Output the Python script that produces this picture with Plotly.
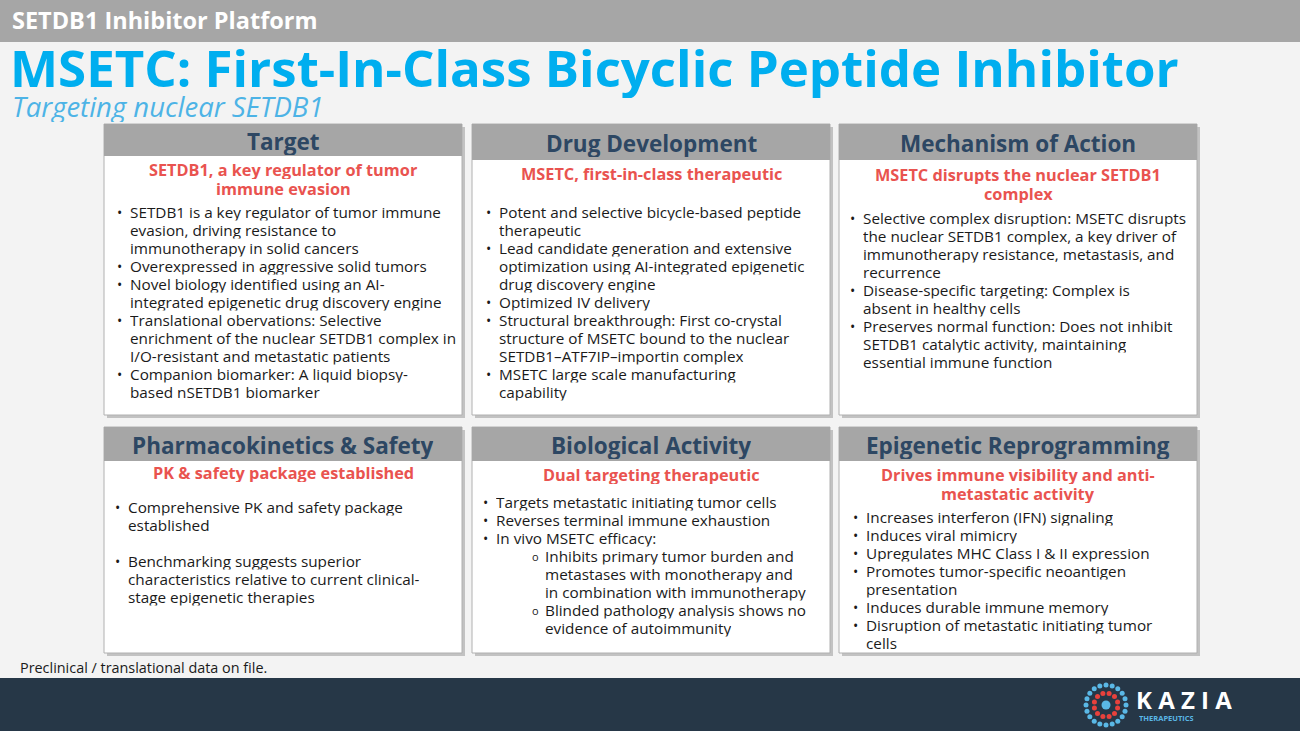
import numpy as np
import plotly.graph_objects as go

W, H = 1300, 731
FONT = "Open Sans"
BLUE = "#00aeef"
SLATE = "#2d4763"
RED = "#e9534f"
TXT = "#1a1a1a"

# slide text
top_label = "SETDB1 Inhibitor Platform"
title = "MSETC: First-In-Class Bicyclic Peptide Inhibitor"
subtitle = "Targeting nuclear SETDB1"
footnote = "Preclinical / translational data on file."

card_titles = ["Target", "Drug Development", "Mechanism of Action",
               "Pharmacokinetics & Safety", "Biological Activity", "Epigenetic Reprogramming"]

card_subtitles = [
    ["SETDB1, a key regulator of tumor", "immune evasion"],
    ["MSETC, first-in-class therapeutic"],
    ["MSETC disrupts the nuclear SETDB1", "complex"],
    ["PK & safety package established"],
    ["Dual targeting therapeutic"],
    ["Drives immune visibility and anti-", "metastatic activity"],
]

# bullets: (level, lines); level 0 = "•", level 1 = "o", None = blank line
card_bullets = [
    [(0, ["SETDB1 is a key regulator of tumor immune", "evasion, driving resistance to", "immunotherapy in solid cancers"]),
     (0, ["Overexpressed in aggressive solid tumors"]),
     (0, ["Novel biology identified using an AI-", "integrated epigenetic drug discovery engine"]),
     (0, ["Translational obervations: Selective", "enrichment of the nuclear SETDB1 complex in", "I/O-resistant and metastatic patients"]),
     (0, ["Companion biomarker: A liquid biopsy-", "based nSETDB1 biomarker"])],
    [(0, ["Potent and selective bicycle-based peptide", "therapeutic"]),
     (0, ["Lead candidate generation and extensive", "optimization using AI-integrated epigenetic", "drug discovery engine"]),
     (0, ["Optimized IV delivery"]),
     (0, ["Structural breakthrough: First co-crystal", "structure of MSETC bound to the nuclear", "SETDB1–ATF7IP–importin complex"]),
     (0, ["MSETC large scale manufacturing", "capability"])],
    [(0, ["Selective complex disruption: MSETC disrupts", "the nuclear SETDB1 complex, a key driver of", "immunotherapy resistance, metastasis, and", "recurrence"]),
     (0, ["Disease-specific targeting: Complex is", "absent in healthy cells"]),
     (0, ["Preserves normal function: Does not inhibit", "SETDB1 catalytic activity, maintaining", "essential immune function"])],
    [(0, ["Comprehensive PK and safety package", "established"]),
     (None, [""]),
     (0, ["Benchmarking suggests superior", "characteristics relative to current clinical-", "stage epigenetic therapies"])],
    [(0, ["Targets metastatic initiating tumor cells"]),
     (0, ["Reverses terminal immune exhaustion"]),
     (0, ["In vivo MSETC efficacy:"]),
     (1, ["Inhibits primary tumor burden and", "metastases with monotherapy and", "in combination with immunotherapy"]),
     (1, ["Blinded pathology analysis shows no", "evidence of autoimmunity"])],
    [(0, ["Increases interferon (IFN) signaling"]),
     (0, ["Induces viral mimicry"]),
     (0, ["Upregulates MHC Class I & II expression"]),
     (0, ["Promotes tumor-specific neoantigen", "presentation"]),
     (0, ["Induces durable immune memory"]),
     (0, ["Disruption of metastatic initiating tumor", "cells"])],
]

# layout of the grid (pixels)
col_x = [(104, 462), (472, 830), (839, 1197)]
row_y = [(124, 415), (427, 653)]
head_h = [[32, 36, 36], [34, 34, 34]]
sub_y0 = [[170, 174, 175], [473, 475, 475]]
bul_y0 = [[212, 212, 218], [507, 502, 517]]
bul_x = [[115, 484, 848], [113, 481, 851]]
LINE = 18

fig = go.Figure()
shapes = []
ann = []

# background
shapes.append(dict(type="rect", x0=0, x1=W, y0=0, y1=H, fillcolor="#f3f3f3", line_width=0))
shapes.append(dict(type="rect", x0=0, x1=W, y0=0, y1=42, fillcolor="#a6a6a6", line_width=0))
shapes.append(dict(type="rect", x0=0, x1=W, y0=678, y1=H, fillcolor="#263747", line_width=0))

ann.append(dict(x=10, y=20, height=32, text="<b>%s</b>" % top_label, font=dict(size=23.5, color="white", family=FONT)))
ann.append(dict(x=8, y=67, height=62, text="<b>%s</b>" % title, font=dict(size=51, color=BLUE, family=FONT)))
ann.append(dict(x=10, y=106, height=32, text="<i>%s</i>" % subtitle, font=dict(size=27.5, color="#4db3e6", family=FONT)))
ann.append(dict(x=18, y=667, height=19, text=footnote, font=dict(size=14.4, color=TXT, family=FONT)))

for k in range(6):
    r, c = divmod(k, 3)
    x0, x1 = col_x[c]
    y0, y1 = row_y[r]
    # shadow
    shapes.append(dict(type="rect", x0=x0 + 3, x1=x1 + 3, y0=y0 + 3, y1=y1 + 3,
                       fillcolor="rgba(0,0,0,0.2)", line_width=0))
    shapes.append(dict(type="rect", x0=x0, x1=x1, y0=y0, y1=y1,
                       fillcolor="white", line=dict(color="#b0b0b0", width=1)))
    shapes.append(dict(type="rect", x0=x0, x1=x1, y0=y0, y1=y0 + head_h[r][c],
                       fillcolor="#a6a6a6", line_width=0))
    cx = (x0 + x1) / 2
    ann.append(dict(x=cx, y=y0 + head_h[r][c] / 2 + 1, xanchor="center", height=28,
                    text="<b>%s</b>" % card_titles[k], font=dict(size=22.5, color=SLATE, family=FONT)))
    for i, s in enumerate(card_subtitles[k]):
        ann.append(dict(x=cx, y=sub_y0[r][c] + i * 19, xanchor="center", height=18,
                        text="<b>%s</b>" % s, font=dict(size=16.3, color=RED, family=FONT)))
    y = bul_y0[r][c]
    bx = bul_x[r][c]
    for level, lines in card_bullets[k]:
        if level is None:
            y += LINE * len(lines)
            continue
        mx = bx if level == 0 else bx + 49
        tx = mx + 13
        mark = "•" if level == 0 else "o"
        ann.append(dict(x=mx, y=y, height=16, text=mark,
                        font=dict(size=14 if level == 0 else 11, color=TXT, family=FONT)))
        for ln in lines:
            ann.append(dict(x=tx, y=y, height=17.6, text=ln, font=dict(size=15.3, color=TXT, family=FONT)))
            y += LINE

for s in shapes:
    s["layer"] = "below"

# Kazia logo
lx, ly = 1106, 705
n_outer, n_inner = 20, 12
ang_o = np.linspace(0, 2 * np.pi, n_outer, endpoint=False)
ang_i = np.linspace(0, 2 * np.pi, n_inner, endpoint=False) + np.pi / n_inner
fig.add_trace(go.Scatter(x=lx + 20 * np.cos(ang_o), y=ly + 20 * np.sin(ang_o), mode="markers",
                         marker=dict(size=5, color="#5ab8e6"), hoverinfo="skip"))
fig.add_trace(go.Scatter(x=lx + 12 * np.cos(ang_i), y=ly + 12 * np.sin(ang_i), mode="markers",
                         marker=dict(size=5, color="#e8413c"), hoverinfo="skip"))
fig.add_trace(go.Scatter(x=[lx], y=[ly], mode="markers",
                         marker=dict(size=9, color="#5ab8e6"), hoverinfo="skip"))
ann.append(dict(x=1134, y=699, height=24, text="<b>K A Z I A</b>", font=dict(size=24, color="white", family=FONT)))
ann.append(dict(x=1137, y=718, height=10, text="<b>THERAPEUTICS</b>", font=dict(size=7.5, color="#5ab8e6", family=FONT)))

for a in ann:
    a.setdefault("xanchor", "left")
    a.setdefault("yanchor", "middle")
    a.update(xref="x", yref="y", showarrow=False)

fig.update_layout(
    width=W, height=H,
    margin=dict(l=0, r=0, t=0, b=0),
    paper_bgcolor="#f3f3f3", plot_bgcolor="#f3f3f3",
    showlegend=False,
    shapes=shapes, annotations=ann,
    xaxis=dict(range=[0, W], visible=False, fixedrange=True),
    yaxis=dict(range=[H, 0], visible=False, fixedrange=True),
)

fig.write_html("out.html", config={"displayModeBar": False},
               post_script="document.body.style.margin='0';document.body.style.overflow='hidden';")
